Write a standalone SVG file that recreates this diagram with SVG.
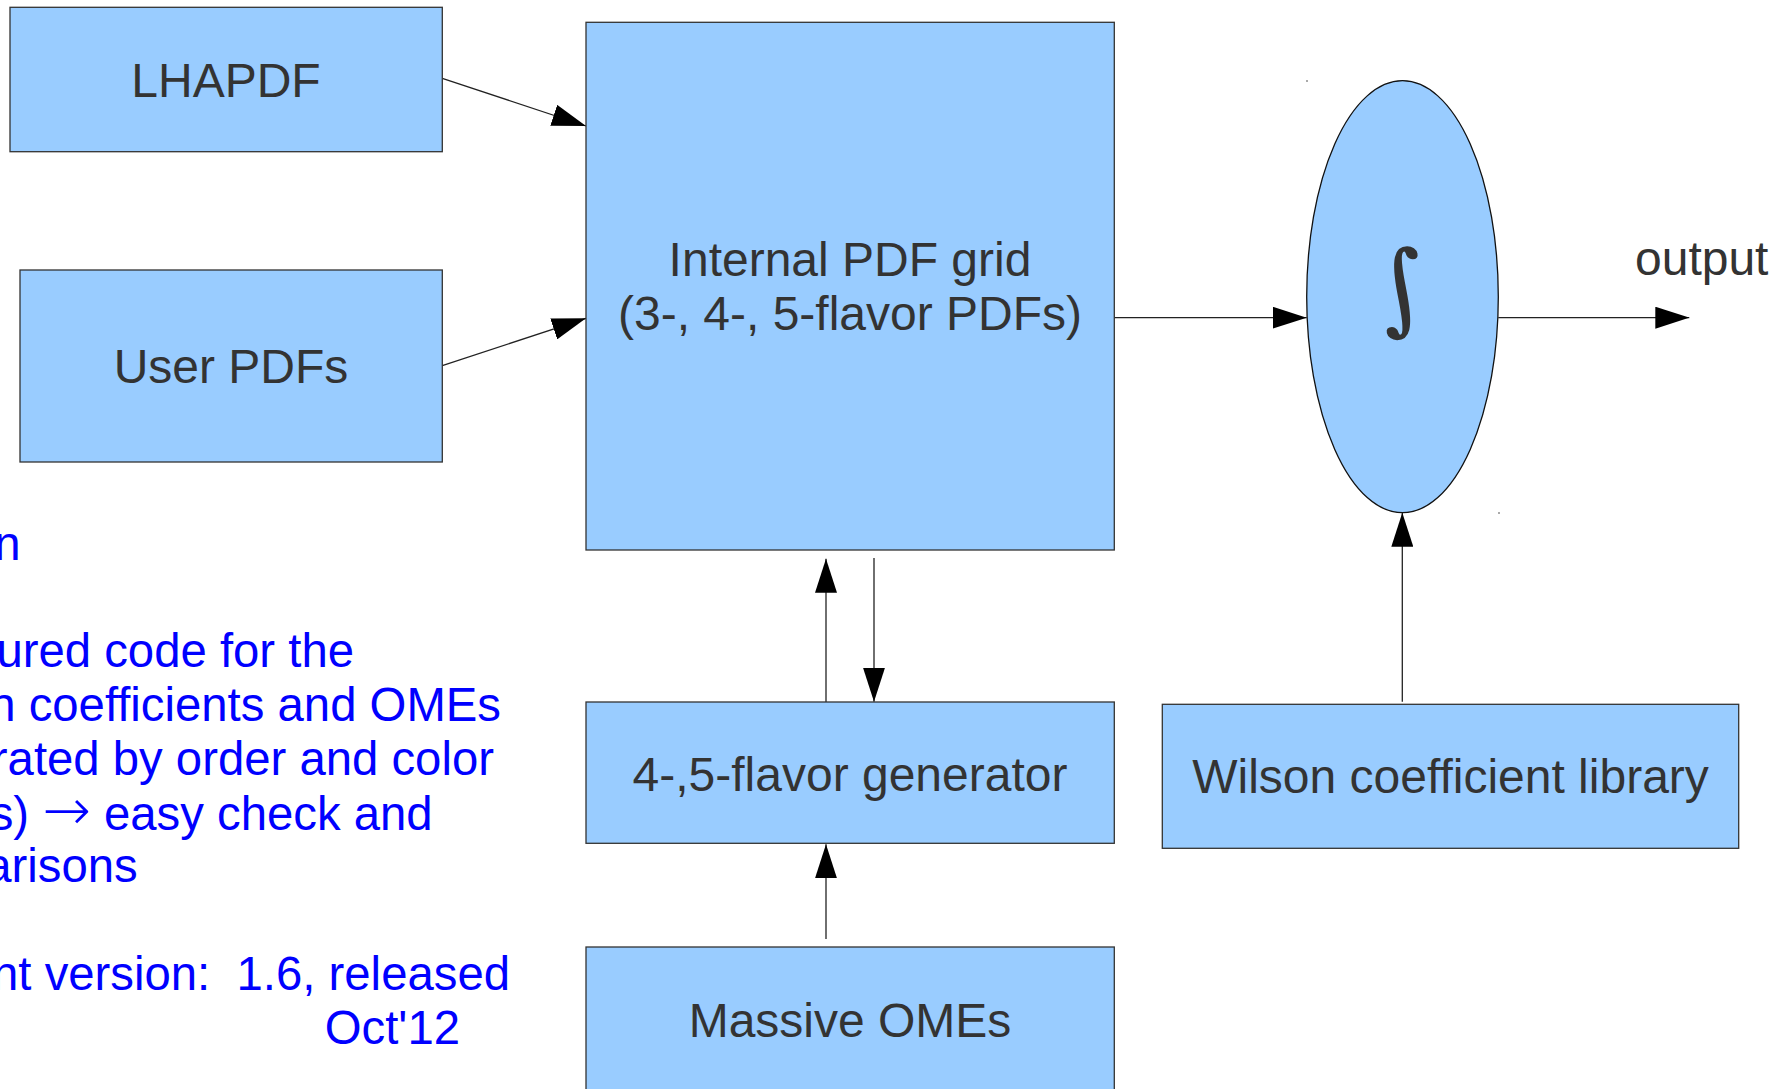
<svg xmlns="http://www.w3.org/2000/svg" width="1785" height="1089" viewBox="0 0 1785 1089">
<defs>
<style>
.box{fill:#99ccff;stroke:#333333;stroke-width:1.3}
.lbl{font-family:"Liberation Sans",Arial,sans-serif;font-size:48px;fill:#333333;text-anchor:middle}
.note{font-family:"Liberation Sans",Arial,sans-serif;font-size:47.3px;fill:#0000ff;text-anchor:end}
.arr{font-family:"DejaVu Sans",sans-serif;font-size:58px;font-weight:200}
.con{stroke:#222222;stroke-width:1.3;fill:none;marker-end:url(#ah)}
</style>
<marker id="ah" markerUnits="userSpaceOnUse" markerWidth="34" markerHeight="22" refX="34" refY="11" orient="auto" viewBox="0 0 34 22">
<path d="M0,0 L34,11 L0,22 z" fill="#000000"/>
</marker>
</defs>
<rect width="1785" height="1089" fill="#ffffff"/>
<g id="notes">
<text class="note" x="20.5" y="560">n</text>
<text class="note" x="354" y="667">ured code for the</text>
<text class="note" x="501" y="721">n coefficients and OMEs</text>
<text class="note" x="494" y="775">rated by order and color</text>
<text class="note" x="432.6" y="830">s) <tspan class="arr">→</tspan> easy check and</text>
<text class="note" x="137.7" y="882">arisons</text>
<text class="note" x="510" y="990" xml:space="preserve">nt version:  1.6, released</text>
<text class="note" x="460" y="1044">Oct'12</text>
</g>
<g id="connectors">
<line class="con" x1="442.3" y1="78.3" x2="586" y2="126"/>
<line class="con" x1="442.3" y1="365.7" x2="586" y2="318.3"/>
<line class="con" x1="1114.3" y1="317.7" x2="1306.7" y2="317.7"/>
<line class="con" x1="1498.3" y1="317.7" x2="1689.3" y2="317.7"/>
<line class="con" x1="826" y1="702" x2="826" y2="558.7"/>
<line class="con" x1="874" y1="558" x2="874" y2="701.7"/>
<line class="con" x1="826" y1="939" x2="826" y2="844.3"/>
<line class="con" x1="1402.3" y1="701.7" x2="1402.3" y2="512.7"/>
</g>
<g id="lhapdf">
<rect class="box" x="10" y="7.3" width="432.3" height="144.4"/>
<text class="lbl" x="226" y="96.7">LHAPDF</text>
</g>
<g id="user-pdfs">
<rect class="box" x="20" y="270" width="422.3" height="192"/>
<text class="lbl" x="231" y="383.3">User PDFs</text>
</g>
<g id="internal-grid">
<rect class="box" x="586" y="22.3" width="528.3" height="527.7"/>
<text class="lbl" x="850" y="276">Internal PDF grid</text>
<text class="lbl" x="850" y="330">(3-, 4-, 5-flavor PDFs)</text>
</g>
<g id="integral">
<ellipse cx="1402.5" cy="296.7" rx="95.8" ry="216" fill="#99ccff" stroke="#111111" stroke-width="1.3"/>
<text x="1402" y="322" font-family="'DejaVu Serif',serif" font-size="100" fill="#333333" text-anchor="middle" transform="translate(1402 292) skewX(12) translate(-1402 -292)">∫</text>
<rect x="1306" y="80" width="2" height="2" fill="#aaaaaa"/>
<rect x="1498" y="512" width="2" height="2" fill="#aaaaaa"/>
</g>
<g id="output">
<text x="1635" y="275" font-family="'Liberation Sans',Arial,sans-serif" font-size="48" fill="#333333">output</text>
</g>
<g id="generator">
<rect class="box" x="586" y="702" width="528.3" height="141.3"/>
<text class="lbl" x="850" y="790.5">4-,5-flavor generator</text>
</g>
<g id="massive-omes">
<rect class="box" x="586" y="947" width="528.3" height="146"/>
<text class="lbl" x="850" y="1036.7">Massive OMEs</text>
</g>
<g id="wilson">
<rect class="box" x="1162.3" y="704.3" width="576.4" height="144"/>
<text class="lbl" x="1450.5" y="792.5">Wilson coefficient library</text>
</g>
</svg>
